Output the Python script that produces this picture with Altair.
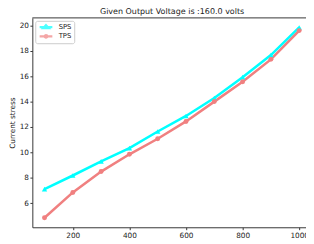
import altair as alt
import pandas as pd

x_vals = [100, 200, 300, 400, 500, 600, 700, 800, 900, 1000]
sps = [7.12, 8.19, 9.3, 10.34, 11.65, 12.87, 14.28, 15.92, 17.66, 19.83]
tps = [4.87, 6.86, 8.5, 9.86, 11.08, 12.44, 14.0, 15.56, 17.32, 19.58]
series_names = ["SPS", "TPS"]
series_colors = ["#00FFFF", "#F08080"]
x_ticks = [200, 400, 600, 800, 1000]
y_ticks = [6, 8, 10, 12, 14, 16, 18, 20]

rows = []
for xv, s, t in zip(x_vals, sps, tps):
    rows.append({"x": xv, "value": s, "series": "SPS"})
    rows.append({"x": xv, "value": t, "series": "TPS"})
df = pd.DataFrame(rows)

W = 281
H = 215
FONT = "DejaVu Sans"

sps_path = "M-0.78,0H2.12M0.67,-0.42L1.27,0.24L0.07,0.24Z"
tps_path = "M-0.78,0H2.12M0.95,0A0.28,0.28 0 1,1 0.39,0A0.28,0.28 0 1,1 0.95,0Z"

xenc = alt.X("x:Q", scale=alt.Scale(domain=[57, 1024], nice=False, zero=False),
             axis=alt.Axis(values=x_ticks, format="d", title=None, grid=False, labelFontSize=7.5,
                           labelFont=FONT, tickSize=2.5, labelPadding=2,
                           domainColor="#333", tickColor="#333", labelColor="#222",
                           labelFlush=False))
yenc = alt.Y("value:Q", scale=alt.Scale(domain=[4.12, 20.58], nice=False, zero=False),
             axis=alt.Axis(values=y_ticks, title="Current stress", grid=False,
                           labelFontSize=7.5, labelFont=FONT, tickSize=2.5, labelPadding=1.5,
                           titleFont=FONT, titleFontSize=7.5, titleFontWeight="normal",
                           titlePadding=3, domainColor="#333", tickColor="#333",
                           labelColor="#222", titleColor="#222", labelFlush=False))
cscale = alt.Scale(domain=series_names, range=series_colors)

base = alt.Chart(df)
legend_layer = base.mark_point(filled=True, size=1, strokeWidth=1).encode(
    x=xenc, y=yenc,
    fill=alt.Fill("series:N", scale=cscale, legend=alt.Legend(
        title=None, orient="none", legendX=3, legendY=3,
        labelFont=FONT, labelFontSize=7, labelColor="#222",
        symbolSize=81, symbolStrokeWidth=2.4, symbolOpacity=1, labelOffset=10,
        rowPadding=0.5, padding=2, clipHeight=9, strokeColor="#ccc", fillColor="white",
        cornerRadius=2)),
    stroke=alt.Stroke("series:N", scale=cscale),
    shape=alt.Shape("series:N", scale=alt.Scale(domain=series_names, range=[sps_path, tps_path])),
)
lines = base.mark_line(strokeWidth=2.6).encode(
    x=xenc, y=yenc, color=alt.Color("series:N", scale=cscale, legend=None))
pts_sps = base.transform_filter(alt.datum.series == "SPS").mark_point(
    filled=True, size=30, opacity=1, shape="triangle-up").encode(
    x=xenc, y=yenc, color=alt.Color("series:N", scale=cscale, legend=None))
pts_tps = base.transform_filter(alt.datum.series == "TPS").mark_point(
    filled=True, size=26, opacity=1, shape="circle").encode(
    x=xenc, y=yenc, color=alt.Color("series:N", scale=cscale, legend=None))

top_spine = alt.Chart(pd.DataFrame({"a": [0]})).mark_rule(color="#333", strokeWidth=1).encode(
    x=alt.value(0), x2=alt.value(W), y=alt.value(0)
)

chart = alt.layer(legend_layer, lines, pts_sps, pts_tps, top_spine).properties(
    width=W, height=H,
    title=alt.TitleParams("Given Output Voltage is :160.0 volts", font=FONT, fontSize=8.2,
                          fontWeight="normal", color="#222", offset=1.5, dx=3),
    autosize=alt.AutoSizeParams(type="none"),
    padding={"left": 25, "top": 7, "right": 0, "bottom": 14},
).configure_view(stroke=None)

chart.save("out.html", embed_options={"renderer": "svg", "actions": False})
